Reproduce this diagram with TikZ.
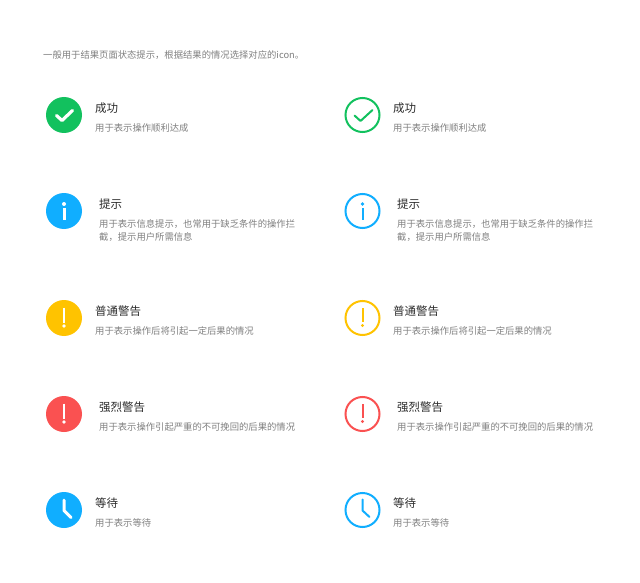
\documentclass[tikz,border=0pt]{standalone}
\usepackage{fontspec}
\setmainfont{Noto Sans CJK SC}
\definecolor{okgreen}{HTML}{12C15E}
\definecolor{infoblue}{HTML}{10AEFF}
\definecolor{warnyellow}{HTML}{FFC300}
\definecolor{dangerred}{HTML}{FA5151}
\definecolor{titletext}{HTML}{2C2C2C}
\definecolor{desctext}{HTML}{808080}
\tikzset{
  x=1pt,y=-1pt,
  titlelabel/.style={anchor=west,inner sep=0pt,text=titletext,font=\fontsize{11.5pt}{14pt}\selectfont},
  desclabel/.style={anchor=west,inner sep=0pt,text=desctext,font=\fontsize{9.33pt}{13pt}\selectfont},
  solidicon/.style={circle,inner sep=0pt,minimum size=36pt,fill=#1},
  ringicon/.style={circle,inner sep=0pt,minimum size=34pt,draw=#1,line width=2pt},
  glyph/.style={line cap=round,line join=round,line width=#1},
}
\begin{document}
\begin{tikzpicture}
\useasboundingbox (0,0) rectangle (640,583);
\fill[white] (0,0) rectangle (640,583);
\node[desclabel] (intro) at (43,55.5) {一般用于结果页面状态提示，根据结果的情况选择对应的icon。};

% left column: solid icons
\node[solidicon=okgreen] (s1) at (64,115) {};
\draw[white,glyph=3.2pt] (56.5,115.5) -- (62,120.5) -- (72.5,110.5);
\node[solidicon=infoblue] (s2) at (64,211) {};
\fill[white] (64,204) circle (2pt);
\draw[white,line width=3pt] (64,208) -- (64,219.5);
\node[solidicon=warnyellow] (s3) at (64,318) {};
\draw[white,line width=2.8pt] (64,307.5) -- (64,322.5);
\fill[white] (64,326) circle (1.9pt);
\node[solidicon=dangerred] (s4) at (64,414) {};
\draw[white,line width=2.8pt] (64,403.5) -- (64,418.5);
\fill[white] (64,422) circle (1.9pt);
\node[solidicon=infoblue] (s5) at (64,510) {};
\draw[white,glyph=3pt] (64,500) -- (64,510.5) -- (71,517.5);

% right column: outlined icons
\node[ringicon=okgreen] (r1) at (362.5,115) {};
\draw[okgreen,glyph=2pt] (354.5,115.5) -- (360.5,121) -- (372.5,110);
\node[ringicon=infoblue] (r2) at (362.5,211) {};
\fill[infoblue] (362.5,204) circle (1.8pt);
\draw[infoblue,line width=2pt] (362.5,208) -- (362.5,219.5);
\node[ringicon=warnyellow] (r3) at (362.5,318) {};
\draw[warnyellow,line width=2pt] (362.5,308) -- (362.5,322);
\fill[warnyellow] (362.5,325.5) circle (1.7pt);
\node[ringicon=dangerred] (r4) at (362.5,414) {};
\draw[dangerred,line width=2pt] (362.5,404) -- (362.5,418);
\fill[dangerred] (362.5,421.5) circle (1.7pt);
\node[ringicon=infoblue] (r5) at (362.5,510) {};
\draw[infoblue,glyph=2pt] (362.5,499.5) -- (362.5,510.5) -- (369.5,517);

% left column texts
\node[titlelabel] (lt1) at (95,108) {成功};
\node[desclabel] (ld1) at (95,127.5) {用于表示操作顺利达成};
\node[titlelabel] (lt2) at (99,204) {提示};
\node[desclabel] (ld2a) at (99,224) {用于表示信息提示，也常用于缺乏条件的操作拦};
\node[desclabel] (ld2b) at (99,237) {截，提示用户所需信息};
\node[titlelabel] (lt3) at (95,311.5) {普通警告};
\node[desclabel] (ld3) at (95,331) {用于表示操作后将引起一定后果的情况};
\node[titlelabel] (lt4) at (99,407.5) {强烈警告};
\node[desclabel] (ld4) at (99,427) {用于表示操作引起严重的不可挽回的后果的情况};
\node[titlelabel] (lt5) at (95,503.5) {等待};
\node[desclabel] (ld5) at (95,523) {用于表示等待};

% right column texts
\node[titlelabel] (rt1) at (393,108) {成功};
\node[desclabel] (rd1) at (393,127.5) {用于表示操作顺利达成};
\node[titlelabel] (rt2) at (397,204) {提示};
\node[desclabel] (rd2a) at (397,224) {用于表示信息提示，也常用于缺乏条件的操作拦};
\node[desclabel] (rd2b) at (397,237) {截，提示用户所需信息};
\node[titlelabel] (rt3) at (393,311.5) {普通警告};
\node[desclabel] (rd3) at (393,331) {用于表示操作后将引起一定后果的情况};
\node[titlelabel] (rt4) at (397,407.5) {强烈警告};
\node[desclabel] (rd4) at (397,427) {用于表示操作引起严重的不可挽回的后果的情况};
\node[titlelabel] (rt5) at (393,503.5) {等待};
\node[desclabel] (rd5) at (393,523) {用于表示等待};
\end{tikzpicture}
\end{document}
